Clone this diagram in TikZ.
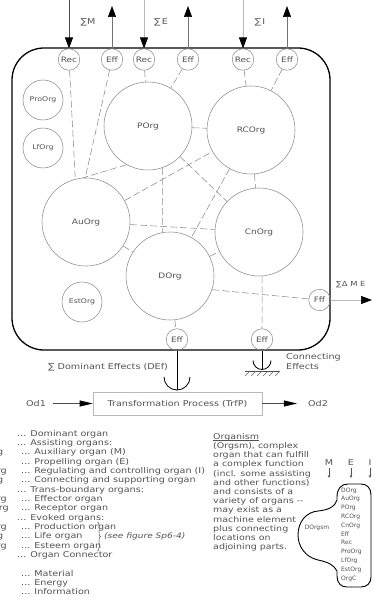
\documentclass[tikz,border=0pt]{standalone}
\usepackage{fontspec}
\newfontfamily\cad[FakeStretch=1.2]{DejaVu Sans}
\newfontfamily\cadn{DejaVu Sans}
\usetikzlibrary{arrows.meta,decorations.pathreplacing}
\definecolor{cline}{gray}{0.55}
\definecolor{ctext}{gray}{0.32}
\definecolor{clight}{gray}{0.72}
\newsavebox\orgbox
\begin{document}
\begin{tikzpicture}[x=1pt,y=-1pt,
 org/.style={circle,draw=cline,line width=0.55pt,minimum size=88pt,inner sep=0pt,text=ctext,font=\cad\fontsize{7.5}{8}\selectfont},
 sorg/.style={org,minimum size=40pt,font=\cad\fontsize{6.5}{8}\selectfont},
 port/.style={org,minimum size=21.5pt},
 conn/.style={draw=cline,line width=0.55pt,dash pattern=on 7pt off 3pt},
 arr/.style={-{Triangle[length=11pt,width=8pt,color=black,fill=black]}},
 arrs/.style={-{Triangle[length=13pt,width=6pt,color=black,fill=black]}},
 arrt/.style={-{Stealth[length=3pt,width=2.5pt,color=ctext,fill=ctext]}},
 lbl/.style={inner sep=0pt,text=ctext,font=\cad\fontsize{8}{9.3}\selectfont},
 leg/.style={lbl,anchor=base west},
 cut/.style={lbl,anchor=base east},
]
\useasboundingbox (0,0) rectangle (374,601);

% system boundary
\draw[line width=1.3pt,rounded corners=32pt] (12,48) rectangle (330,350);

% ports
\node[port] (recM) at (69,59.5) {Rec};
\node[port] (effM) at (112,59.5) {Eff};
\node[port] (recE) at (144,59.5) {Rec};
\node[port] (effE) at (188,59.5) {Eff};
\node[port] (recI) at (243,59.5) {Rec};
\node[port] (effI) at (287,59.5) {Eff};
\node[port] (fff) at (319.5,300) {Fff};
\node[port] (effD) at (177,339.5) {Eff};
\node[port] (effC) at (262,339.5) {Eff};

% organs
\node[org] (P) at (148,126) {POrg};
\node[org] (RC) at (251,130) {RCOrg};
\node[org] (Au) at (86,222) {AuOrg};
\node[org] (Cn) at (259,232) {CnOrg};
\node[org] (D) at (170,276) {DOrg};
\node[sorg] (Pro) at (43,100) {ProOrg};
\node[sorg] (Lf) at (43,148) {LfOrg};
\node[sorg] (Est) at (82,302) {EstOrg};

% top flows
\coordinate (srcM) at (69,0);
\coordinate (srcE) at (144,0);
\coordinate (srcI) at (243,0);
\coordinate (dstM) at (112,6);
\coordinate (dstE) at (188,6);
\coordinate (dstI) at (287,6);
\draw[arr,draw=black!70,line width=0.6pt] (srcM) -- (recM.north);
\draw[arr,draw=clight,line width=0.6pt] (srcE) -- (recE.north);
\draw[arr,draw=clight,line width=0.6pt] (srcI) -- (recI.north);
\draw[arr,draw=black!55,line width=0.6pt] (effM.north) -- (dstM);
\draw[arr,draw=black!55,line width=0.6pt] (effE.north) -- (dstE);
\draw[arr,draw=black!55,line width=0.6pt] (effI.north) -- (dstI);
\node[lbl] (sM) at (88,22) {∑M};
\node[lbl] (sE) at (161,22) {∑\,E};
\node[lbl] (sI) at (260,22) {∑\,I};

% organ connectors
\draw[conn] (recM) -- (Au.104);
\draw[conn] (effM) -- (Au.91);
\draw[conn] (recE) -- (P);
\draw[conn] (effE) -- (P);
\draw[conn] (recI) -- (RC);
\draw[conn] (effI) -- (RC);
\draw[conn] (P) -- (RC);
\draw[conn] (P.241) -- (Au.94);
\draw[conn] (P.289) -- (D.100);
\draw[conn] (P) -- (Cn);
\draw[conn] (RC) -- (Cn);
\draw[conn] (RC) -- (D);
\draw[conn] (Au) -- (RC);
\draw[conn] (Au) -- (Cn);
\draw[conn] (Au) -- (D);
\draw[conn] (D) -- (Cn);
\draw[conn] (D.-18) -- (fff);
\draw[conn] (Cn.274) -- (effC);
\draw[conn] (D) -- (effD);

% side output
\coordinate (dstF) at (372,300);
\draw[arr,draw=clight,line width=0.6pt] (fff.east) -- (dstF);
\node[lbl,anchor=west,font=\cad\fontsize{7}{8}\selectfont] (sF) at (336,285) {∑Δ M E};

% dominant effects
\coordinate (cupD) at (177,390);
\draw[line width=0.8pt] (effD.south) -- (cupD);
\draw[line width=0.8pt] (164,377) .. controls (164,384.2) and (169.8,390) .. (177,390) .. controls (184.2,390) and (190,384.2) .. (190,377);
\node[lbl,anchor=west] (dEf) at (48,367) {∑ Dominant Effects (DEf)};

% connecting effects
\coordinate (cupC) at (262,369.5);
\draw[line width=0.8pt] (effC.south) -- (cupC);
\draw[line width=0.8pt] (253,360.5) .. controls (253,365.5) and (257,369.5) .. (262,369.5) .. controls (267,369.5) and (271,365.5) .. (271,360.5);
\draw[line width=0.5pt,draw=black!70] (245,371) -- (280,371);
\foreach \x in {250,256,...,280} \draw[line width=0.4pt,draw=black!60] (\x,371) -- ++(-5,5);
\node[lbl,anchor=north west,align=left,font=\cad\fontsize{8}{10}\selectfont] (cEf) at (286,353) {Connecting\\Effects};

% transformation process
\node[lbl,draw=clight,line width=0.6pt,minimum width=169pt,minimum height=23pt] (trf) at (177.5,403.5) {Transformation Process (TrfP)};
\node[lbl] (od1) at (36,403.5) {Od1};
\node[lbl] (od2) at (318,403.5) {Od2};
\draw[arrs,draw=black!70,line width=0.6pt,shorten <=7pt] (od1) -- (trf);
\draw[arrs,draw=black!70,line width=0.6pt,shorten >=11pt] (trf) -- (od2);

% legend
\node[leg] at (17,436) {... Dominant organ};
\node[leg] at (17,445.35) {... Assisting organs:};
\node[leg] at (21,454.7) {... Auxiliary organ (M)};
\node[leg] at (21,464.05) {... Propelling organ (E)};
\node[leg] at (21,473.4) {... Regulating and controlling organ (I)};
\node[leg] at (21,482.75) {... Connecting and supporting organ};
\node[leg] at (17,492.1) {... Trans-boundary organs:};
\node[leg] at (21,501.45) {... Effector organ};
\node[leg] at (21,510.8) {... Receptor organ};
\node[leg] at (17,520.15) {... Evoked organs:};
\node[leg] at (21,529.5) {... Production organ};
\node[leg] at (21,538.85) {... Life organ};
\node[leg] at (21,548.2) {... Esteem organ};
\node[leg] at (17,557.55) {... Organ Connector};
\node[leg] at (21,576.25) {... Material};
\node[leg] at (21,585.6) {... Energy};
\node[leg] at (21,594.95) {... Information};
\begin{scope}
\clip (0,420) rectangle (16,560);
\node[cut] at (3.5,454.7) {AuOrg};
\node[cut] at (7,473.4) {RCOrg};
\node[cut] at (3.5,482.75) {CnOrg};
\node[cut] at (7,501.45) {EffOrg};
\node[cut] at (9,510.8) {RecOrg};
\node[cut] at (7,529.5) {ProOrg};
\node[cut] at (3.5,538.85) {LfOrg};
\node[cut] at (7,548.2) {EstOrg};
\end{scope}
\draw[decorate,decoration={brace,amplitude=3pt},draw=ctext,line width=0.5pt] (97.5,522) -- (97.5,551);
\node[lbl,anchor=west,font=\cad\itshape\fontsize{7.5}{9}\selectfont] (see) at (104,536) {(see figure Sp6-4)};

% organism text
\node[lbl,anchor=north west,align=left,font=\cad\fontsize{7.9}{9.2}\selectfont] (orgtxt) at (213,433) {\sbox\orgbox{Organism}\rlap{\rule[-1.3pt]{\wd\orgbox}{0.4pt}}\usebox\orgbox\\(Orgsm), complex\\organ that can fulfill\\a complex function\\(incl. some assisting\\and other functions)\\and consists of a\\variety of organs -{}-\\may exist as a\\machine element\\plus connecting\\locations on\\adjoining parts.};

% organism symbol
\node[lbl] (mM) at (329,463) {M};
\node[lbl] (mE) at (351,463) {E};
\node[lbl] (mI) at (370,463) {I};
\coordinate (aM) at (329,478);
\coordinate (aE) at (351,478);
\coordinate (aI) at (370,478);
\draw[arrt,draw=ctext,line width=0.4pt,shorten <=2pt] (mM) -- (aM);
\draw[arrt,draw=ctext,line width=0.4pt,shorten <=2pt] (mE) -- (aE);
\draw[arrt,draw=ctext,line width=0.4pt,shorten <=2pt] (mI) -- (aI);
\draw[line width=0.9pt] (337,497) .. controls (337,489) and (341,484) .. (348,484)
  -- (361,484) .. controls (367,484) and (371,488) .. (371,495)
  -- (371,577) .. controls (371,583) and (367,587) .. (361,587)
  -- (347,587) .. controls (341,587) and (337,583) .. (337,576)
  -- (337,571) .. controls (334,565) and (328,562) .. (318,560)
  .. controls (305,557) and (298,546) .. (298,535)
  .. controls (298,522) and (306,512) .. (318,511)
  .. controls (328,510) and (335,507) .. (337,500) -- cycle;
\node[anchor=north west,align=left,inner sep=0pt,text=ctext,font=\cadn\fontsize{6}{8.8}\selectfont] (olist) at (341,487.5) {DOrg\\AuOrg\\POrg\\RCOrg\\CnOrg\\Eff\\Rec\\ProOrg\\LfOrg\\EstOrg\\OrgC};
\node[inner sep=0pt,text=ctext,font=\cadn\fontsize{6}{7}\selectfont] (dorgsm) at (317,528) {DOrgsm};
\end{tikzpicture}
\end{document}
